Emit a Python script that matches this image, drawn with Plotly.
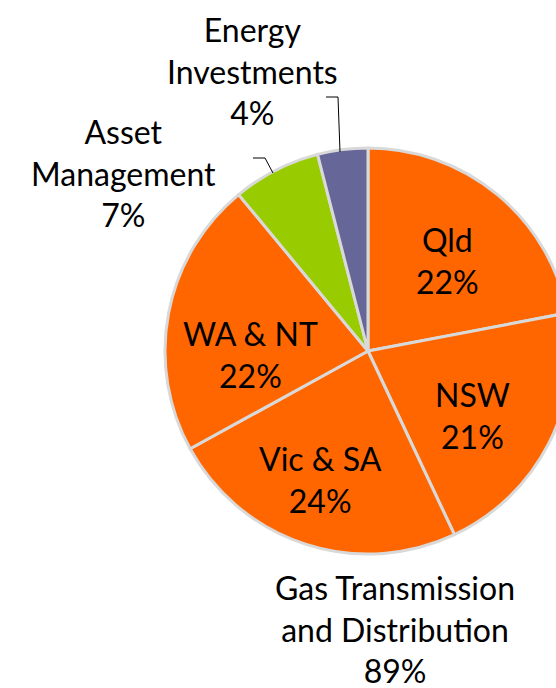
import plotly.graph_objects as go

# Data
segments = ["Qld", "NSW", "Vic & SA", "WA & NT", "Asset Management", "Energy Investments"]
segment_labels = ["Qld", "NSW", "Vic & SA", "WA & NT", "Asset<br>Management", "Energy<br>Investments"]
shares = [22, 21, 24, 22, 7, 4]
group_name = "Gas Transmission<br>and Distribution"
group_members = ["Qld", "NSW", "Vic & SA", "WA & NT"]

colors = ["#FF6600", "#FF6600", "#FF6600", "#FF6600", "#99CC00", "#666699"]
FONT = "Lato, 'Open Sans', sans-serif"
FS = 32

W, H = 576, 688

fig = go.Figure(go.Pie(
    labels=segments,
    values=shares,
    sort=False,
    direction="clockwise",
    rotation=0,
    marker=dict(colors=colors, line=dict(color="#D9D9D9", width=3)),
    textinfo="none",
    hoverinfo="label+percent",
    showlegend=False,
    domain=dict(x=[165 / W, 571 / W], y=[1 - 554 / H, 1 - 148 / H]),
))

total = sum(shares)
def pct(i):
    return f"{round(100 * shares[i] / total)}%"

group_pct = round(100 * sum(shares[segments.index(s)] for s in group_members) / total)

# label anchor positions (pixels from top-left)
label_pos = [(447, 260), (472, 415), (320, 479), (250, 354), (123, 173), (252, 71)]

annos = [dict(text=f"{segment_labels[i]}<br>{pct(i)}", x=px / W, y=1 - py / H)
         for i, (px, py) in enumerate(label_pos)]
annos.append(dict(text=f"{group_name}<br>{group_pct}%", x=395 / W, y=1 - 629 / H))

fig.update_layout(
    annotations=[dict(xref="paper", yref="paper", xanchor="center", yanchor="middle",
                      showarrow=False, font=dict(family=FONT, size=FS, color="#000000"), **a)
                 for a in annos],
    shapes=[
        dict(type="path", xref="paper", yref="paper",
             path=f"M {340/W} {1-152/H} L {338/W} {1-97/H} L {326/W} {1-97/H}",
             line=dict(color="#000000", width=1)),
        dict(type="path", xref="paper", yref="paper",
             path=f"M {273/W} {1-173/H} L {265/W} {1-158/H} L {253/W} {1-158/H}",
             line=dict(color="#000000", width=1)),
    ],
    width=W, height=H, autosize=False,
    margin=dict(l=0, r=0, t=0, b=0),
    paper_bgcolor="#FFFFFF", plot_bgcolor="#FFFFFF",
)

fig.write_html(
    "out.html",
    config={"displayModeBar": False},
    post_script="document.body.style.margin='0';document.body.style.overflow='hidden';",
)
